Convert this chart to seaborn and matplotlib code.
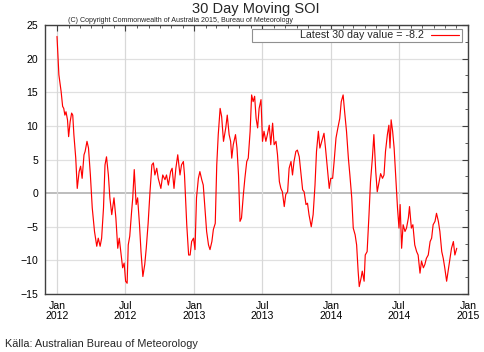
import matplotlib
matplotlib.use("Agg")
import matplotlib.pyplot as plt
import matplotlib.dates as mdates
import matplotlib.ticker as ticker
from matplotlib.patches import Rectangle
import pandas as pd
import seaborn as sns

# days since 2012-01-01
days = [0, 5, 11, 15, 18, 21, 24, 28, 31, 35, 39, 42, 45, 50, 54, 59, 63, 67, 72, 75,
        80, 84, 89, 94, 100, 106, 110, 115, 119, 124, 128, 132, 137, 141, 146, 152, 157, 162, 166, 170,
        175, 179, 183, 187, 190, 194, 199, 202, 206, 211, 215, 220, 224, 229, 234, 238, 243, 248, 253, 257,
        261, 266, 270, 277, 282, 288, 292, 297, 303, 307, 312, 317, 322, 328, 332, 337, 340, 346, 351, 355,
        359, 364, 368, 372, 377, 381, 386, 390, 395, 399, 404, 408, 413, 417, 422, 426, 430, 435, 439, 444,
        450, 454, 459, 463, 466, 470, 476, 480, 484, 488, 492, 497, 501, 506, 510, 515, 519, 523, 527, 531,
        535, 539, 544, 548, 552, 557, 561, 566, 570, 575, 579, 584, 588, 593, 597, 601, 606, 610, 615, 619,
        624, 628, 632, 637, 641, 646, 650, 655, 659, 664, 668, 672, 678, 683, 688, 692, 697, 701, 706, 712,
        716, 721, 726, 730, 735, 739, 744, 749, 754, 758, 763, 767, 772, 777, 781, 786, 790, 795, 799, 803,
        806, 811, 814, 819, 822, 827, 832, 836, 841, 845, 850, 854, 859, 863, 868, 872, 876, 881, 885, 888,
        891, 895, 899, 903, 908, 912, 915, 919, 923, 928, 932, 937, 940, 945, 949, 954, 959, 963, 968, 972,
        977, 981, 985, 990, 995, 999, 1003, 1008, 1012, 1017, 1021, 1026, 1030, 1034, 1039, 1043, 1048, 1052, 1057, 1061,
        1066]
soi = [23.3, 17.6, 15.1, 12.9, 12.6, 11.6, 12.1, 10.9, 8.4, 10.6, 11.9, 11.6, 8.7, 5.2, 0.7, 3.2, 4.0, 2.2, 5.7, 6.2,
       7.7, 6.7, 2.7, -2.2, -5.7, -7.9, -6.7, -7.9, -6.7, -2.2, 4.2, 5.4, 2.7, -0.7, -3.2, -0.7, -3.7, -8.2, -6.7, -8.7,
       -11.1, -10.4, -13.1, -13.4, -7.7, -6.4, -2.7, -0.7, 3.5, -1.7, -0.7, -4.7, -8.7, -12.4, -10.6, -8.2, -4.5, 0.2, 4.2, 4.5,
       2.7, 3.7, 2.2, 0.7, 2.7, 2.0, 2.7, 1.2, 3.2, 3.7, 0.7, 3.7, 5.7, 2.7, 4.2, 4.7, 2.7, -4.7, -9.2, -9.2,
       -7.2, -6.7, -8.4, -0.7, 2.2, 3.2, 2.0, 1.2, -2.7, -5.7, -7.7, -8.4, -7.2, -5.4, -4.5, 4.2, 8.7, 12.6, 11.4, 7.7,
       9.7, 11.6, 8.7, 7.7, 5.2, 7.2, 8.7, 6.7, 2.7, -4.2, -3.7, -0.2, 2.2, 4.7, 5.2, 9.2, 14.6, 13.6, 14.4, 11.1,
       9.7, 12.6, 13.9, 7.7, 9.2, 7.7, 8.7, 10.1, 7.2, 10.4, 7.2, 7.7, 5.7, 1.7, 0.7, 0.2, -2.0, -0.2, 0.2, 3.7,
       4.7, 2.7, 4.7, 6.2, 6.4, 5.4, 3.2, 0.5, 0.2, -1.7, -1.5, -3.2, -5.0, -3.2, 1.2, 6.2, 9.2, 6.7, 7.7, 8.9,
       6.7, 3.7, 0.7, 2.2, 2.2, 4.7, 8.2, 9.7, 11.1, 13.6, 14.6, 12.1, 9.2, 5.2, 2.7, -0.7, -5.2, -6.2, -7.7, -11.6,
       -13.9, -12.6, -11.6, -13.1, -9.2, -8.7, -3.2, 1.7, 5.2, 8.7, 3.2, 0.2, 1.7, 2.9, 2.2, 2.7, 6.2, 8.7, 10.1, 6.7,
       10.9, 9.2, 6.7, 2.7, -2.2, -5.2, -1.7, -8.2, -4.7, -5.7, -5.2, -3.7, -2.0, -5.2, -4.7, -7.7, -8.7, -9.2, -11.9, -10.1,
       -11.1, -10.6, -9.7, -9.2, -7.2, -6.7, -4.7, -4.2, -3.0, -4.2, -5.7, -8.7, -9.7, -11.1, -13.1, -11.6, -9.7, -8.2, -7.2, -9.2,
       -8.2]
latest = -8.2

df = pd.DataFrame({"date": pd.Timestamp("2012-01-01") + pd.to_timedelta(days, unit="D"),
                   "soi": soi})

sns.set_style("white")
plt.rcParams["font.family"] = ["Liberation Sans", "DejaVu Sans"]

fig = plt.figure(figsize=(4.85, 3.52), dpi=100)
ax = fig.add_axes([45 / 485, 1 - 294 / 352, 423 / 485, 269 / 352])

# grid
for yy in range(-15, 26, 5):
    if yy == 0:
        ax.axhline(0, color="#b8b8b8", lw=1.3, zorder=0)
    else:
        ax.axhline(yy, color="#e0e0e0", lw=0.9, zorder=0)
for d in pd.date_range("2012-01-01", "2015-01-01", freq="6MS"):
    ax.axvline(d, color="#d8d8d8", lw=0.9, zorder=0)

sns.lineplot(data=df, x="date", y="soi", ax=ax, color="red", lw=0.85,
             label="Latest 30 day value = %.1f" % latest)

ax.set_xlim(pd.Timestamp("2011-11-30"), pd.Timestamp("2015-01-01"))
ax.set_ylim(-15, 25)
ax.yaxis.set_major_locator(ticker.MultipleLocator(5))
ax.yaxis.set_minor_locator(ticker.MultipleLocator(2.5))
ax.xaxis.set_major_locator(mdates.MonthLocator(bymonth=[1, 7]))
ax.xaxis.set_major_formatter(mdates.DateFormatter("%b\n%Y"))
ax.xaxis.set_minor_locator(mdates.MonthLocator())
ax.set_xlabel("")
ax.set_ylabel("")
ax.tick_params(which="both", direction="in", top=True, right=True, colors="#404040",
               labelcolor="black", labelsize=7.6)
ax.tick_params(which="major", length=4, width=0.8)
ax.tick_params(which="minor", length=2.5, width=0.6)
ax.tick_params(axis="y", pad=5)
ax.tick_params(axis="x", pad=5)
for lab in ax.get_xticklabels():
    lab.set_linespacing(1.0)
for s in ax.spines.values():
    s.set_color("#404040")
    s.set_linewidth(1.0)

# gnuplot-style key box
ax.add_patch(Rectangle((0.489, 0.937), 0.497, 0.048, transform=ax.transAxes,
                       facecolor="white", edgecolor="#909090", lw=0.8, zorder=4))
leg = ax.legend(loc="center right", bbox_to_anchor=(0.978, 0.961), markerfirst=False,
                frameon=False, fontsize=7.7, handlelength=2.6,
                borderpad=0.0, borderaxespad=0.0, handletextpad=0.65)
leg.set_zorder(5)

fig.text(256 / 485, 1 - 9.5 / 352, "30 Day Moving SOI", ha="center", va="center", fontsize=10.5)
fig.text(68 / 485, 1 - 20.5 / 352, "(C) Copyright Commonwealth of Australia 2015, Bureau of Meteorology",
         ha="left", va="center", fontsize=5.1)
fig.text(5 / 485, 1 - 344 / 352, "Källa: Australian Bureau of Meteorology",
         ha="left", va="center", fontsize=7.8)

fig.savefig("out.png", dpi=100)
